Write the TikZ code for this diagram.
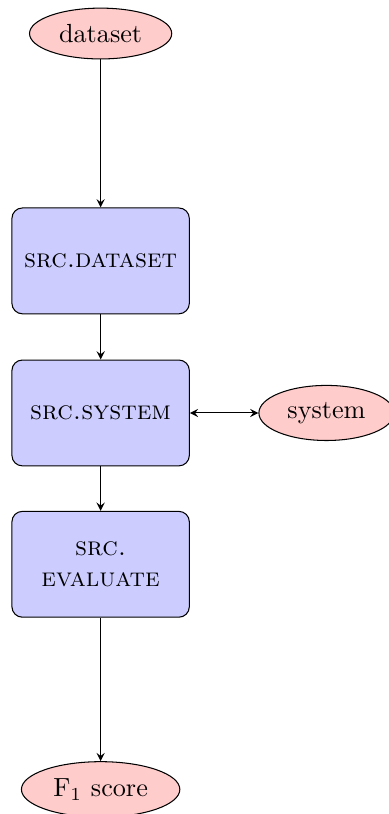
\documentclass[tikz,border=0pt]{standalone}
\usepackage{amsmath}
\usepackage{tikz}
\usetikzlibrary{shapes.geometric}

\begin{document}
\begin{tikzpicture}[>=stealth,
    module/.style={draw,rounded corners,fill=blue!20,minimum width=2.38cm,minimum height=1.42cm,align=center},
    io/.style={draw,ellipse,fill=red!20}]
    \useasboundingbox(-1.35,-5.38) rectangle (3.86,5.54);
    \node[io] (dataset) at (0,5.09){dataset};
    \node[module] (srcdataset) at (0,2.04){\textsc{src.dataset}};
    \node[module] (srcsystem) at (0,0){\textsc{src.system}};
    \node[module] (srcevaluate) at (0,-2.03){\textsc{src.}\\\textsc{evaluate}};
    \node[io] (score) at (0,-5.05){F$_1$ score};
    \node[io] (system) at (3.03,0){system};
    \draw[->](dataset)--(srcdataset);
    \draw[->](srcdataset)--(srcsystem);
    \draw[->](srcsystem)--(srcevaluate);
    \draw[->](srcevaluate)--(score);
    \draw[<->](srcsystem)--(system);
\end{tikzpicture}
\end{document}
